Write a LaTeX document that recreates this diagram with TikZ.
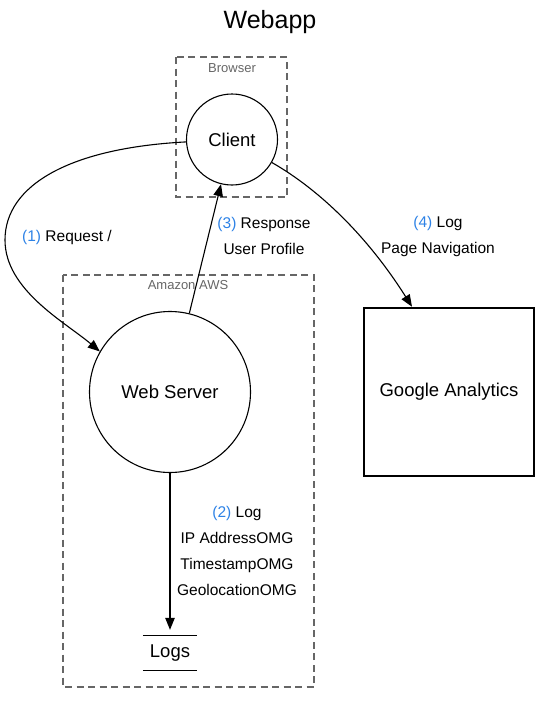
\documentclass[tikz,border=0pt]{standalone}
\usepackage{fontspec}
\setmainfont{Liberation Sans}
\usetikzlibrary{arrows.meta}
\definecolor{stepblue}{RGB}{45,130,230}
\definecolor{clustergray}{RGB}{102,102,102}
\newcommand{\stepno}[1]{\textcolor{stepblue}{(#1)}}
\tikzset{
  proc/.style={draw, circle, line width=1.1pt, inner sep=0pt, font=\fontsize{18.5}{22}\selectfont},
  cluster/.style={draw=clustergray, line width=1.1pt, dash pattern=on 7pt off 4.5pt},
  clabel/.style={text=clustergray, font=\fontsize{13}{15}\selectfont},
  lbl/.style={align=center, font=\fontsize{15.5}{26}\selectfont},
  flow/.style={line width=1.1pt, -{Triangle[length=12pt,width=9.5pt]}}
}
\begin{document}
\begin{tikzpicture}[x=1pt,y=-1pt]
\useasboundingbox (0,0) rectangle (540,704);

\node[font=\fontsize{25}{30}\selectfont] (title) at (270,22) {Webapp};

% clusters
\draw[cluster] (176,57) rectangle (287,197);
\node[clabel] (browser) at (232,68) {Browser};
\draw[cluster] (63,275) rectangle (314,687);
\node[clabel] (aws) at (188,285) {Amazon AWS};

% processes and stores
\node[proc, minimum size=91pt] (client) at (232,139.5) {Client};
\node[proc, minimum size=161pt] (server) at (170,392) {Web Server};
\node[draw, line width=2.5pt, minimum width=170pt, minimum height=168pt,
  font=\fontsize{18.5}{22}\selectfont] (ga) at (449,392) {Google Analytics};
\node[minimum width=54pt, minimum height=34pt, font=\fontsize{18.5}{22}\selectfont]
  (logs) at (170,653) {Logs};
\draw[line width=1.1pt] (logs.north west) -- (logs.north east);
\draw[line width=1.1pt] (logs.south west) -- (logs.south east);

% flows
\draw[flow] (client.183) .. controls (70,148) and (5,185) .. (5,240)
  .. controls (5,290) and (65,322) .. (server.150);
\draw[flow, shorten >=6pt] (server) -- (logs);
\draw[flow] (server) -- (client);
\draw[flow] (client.-30) .. controls (320,190) and (368,237) .. (ga.north west -| 412,307);

\node[lbl] (req) at (67,237) {\stepno{1} Request /};
\node[lbl] (log) at (237,551) {\stepno{2} Log\\IP AddressOMG\\TimestampOMG\\GeolocationOMG};
\node[lbl] (resp) at (264,236) {\stepno{3} Response\\User Profile};
\node[lbl] (nav) at (438,236) {\stepno{4} Log\\Page Navigation};
\end{tikzpicture}
\end{document}
